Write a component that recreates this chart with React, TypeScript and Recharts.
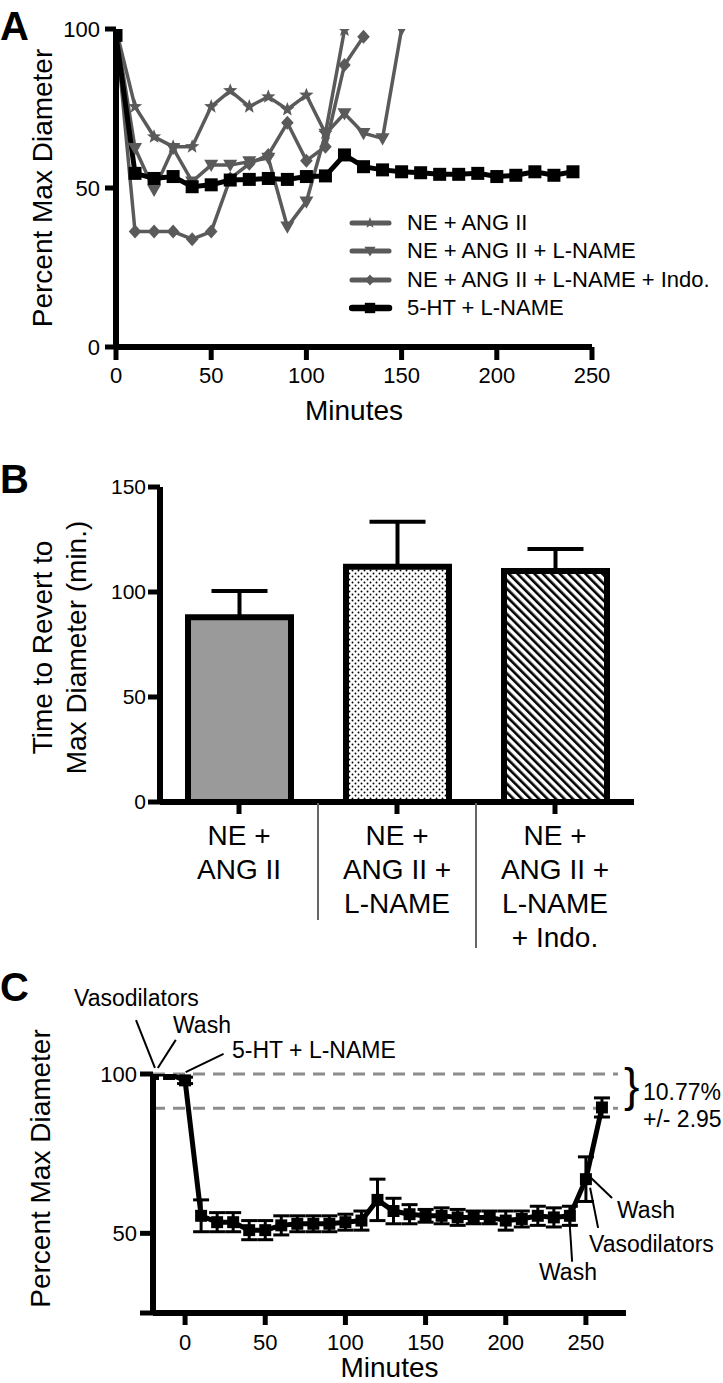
import React from "react";
import {
  LineChart,
  Line,
  XAxis,
  YAxis,
  BarChart,
  Bar,
  Cell,
  ErrorBar,
  Legend,
  ReferenceLine,
} from "recharts";

const FONT = '"Liberation Sans", Arial, Helvetica, sans-serif';
const GRAY = "#5a5a5a";

// ---------- Panel A ----------
const minutesA = [0, 10, 20, 30, 40, 50, 60, 70, 80, 90, 100, 110, 120, 130, 140, 150, 160, 170, 180, 190, 200, 210, 220, 230, 240];
const neAng = [100, 75.6, 66.1, 63, 63, 75.6, 80.6, 75.6, 78.7, 74.7, 79.2, 67.2, 99.7];
const neAngLname = [100, 62.5, 49.4, 62.5, 52, 57.2, 57.2, 58.3, 59.4, 37.8, 45.7, 67, 73.4, 67.2, 65.6, 100];
const neAngLnameIndo = [100, 36.3, 36.3, 36.3, 33.9, 36.3, 53, 57.6, 60.4, 70.5, 58.6, 63, 88.7, 97.6];
const htLname = [98, 54.6, 53, 53.6, 50.4, 51, 52.5, 52.7, 53, 52.7, 53.6, 53.8, 60.4, 56.7, 55.7, 55.1, 54.8, 54.3, 54.3, 54.6, 53.6, 54, 55.1, 54, 55.1];
const xTicksA = [0, 50, 100, 150, 200, 250];
const yTicksA = [0, 50, 100];

const seriesA = [
  { key: "ne", name: "NE + ANG II", shape: "star", color: GRAY, width: 3.5 },
  { key: "nel", name: "NE + ANG II + L-NAME", shape: "tri", color: GRAY, width: 3.5 },
  { key: "neli", name: "NE + ANG II + L-NAME + Indo.", shape: "diamond", color: GRAY, width: 3.5 },
  { key: "ht", name: "5-HT + L-NAME", shape: "square", color: "#000", width: 5 },
];

const dataA = minutesA.map((t, i) => ({
  t,
  ne: neAng[i],
  nel: neAngLname[i],
  neli: neAngLnameIndo[i],
  ht: htLname[i],
}));

// ---------- Panel B ----------
const categoriesB = ["NE + ANG II", "NE + ANG II + L-NAME", "NE + ANG II + L-NAME + Indo."];
const categoryLinesB = [
  ["NE +", "ANG II"],
  ["NE +", "ANG II +", "L-NAME"],
  ["NE +", "ANG II +", "L-NAME", "+ Indo."],
];
const timeToRevert = [88, 112, 110];
const timeToRevertErr = [12.5, 21.5, 10.5];
const fillsB = ["#9a9a9a", "url(#dotsB)", "url(#hatchB)"];
const yTicksB = [0, 50, 100, 150];

const dataB = categoriesB.map((name, i) => ({
  name,
  value: timeToRevert[i],
  err: [0, timeToRevertErr[i]],
}));

// ---------- Panel C ----------
const minutesC = [-20, -10, 0, 10, 20, 30, 40, 50, 60, 70, 80, 90, 100, 110, 120, 130, 140, 150, 160, 170, 180, 190, 200, 210, 220, 230, 240, 250, 260];
const meanC = [100, 100, 98, 55.5, 53.5, 53.5, 51, 51, 52.5, 53, 53, 53, 53.5, 54, 60.5, 57, 56, 55.5, 55.5, 55, 55, 55, 54, 54.5, 55.5, 55, 55.5, 67, 89.5];
const semC = [0, 0, 1, 5, 3, 3, 3, 3, 3, 2.5, 2.5, 2.5, 2.5, 3, 6.5, 4, 3, 2, 2.5, 2.5, 2, 2, 3, 2.5, 3, 3, 3, 7, 3];
const xTicksC = [0, 50, 100, 150, 200, 250];
const yTicksC = [25, 50, 100];
const recoveredC = 100 - 10.77;

// annotation leaders, in data units: [fromX, fromY, toX, toY]
const leadersC = [
  [-30.6, 116.9, -18.8, 101.9],
  [-5.8, 110.7, -17, 101.9],
  [24, 106.3, 0.4, 100.6],
  [266.3, 61.1, 252.6, 67.7],
  [257.6, 51.7, 252.6, 64.3],
  [241.4, 41.1, 239.6, 55.2],
];

const dataC = minutesC.map((t, i) => ({ t, mean: meanC[i], err: semC[i] }));

function Marker({ cx, cy, shape, color, size = 1 }: any) {
  if (cx == null || cy == null || Number.isNaN(cx) || Number.isNaN(cy)) return <g />;
  if (shape === "star") {
    const pts: string[] = [];
    for (let k = 0; k < 10; k++) {
      const r = (k % 2 === 0 ? 7.5 : 3.2) * size;
      const a = -Math.PI / 2 + (k * Math.PI) / 5;
      pts.push(`${cx + r * Math.cos(a)},${cy + r * Math.sin(a)}`);
    }
    return <polygon points={pts.join(" ")} fill={color} />;
  }
  if (shape === "tri") {
    const s = 7 * size;
    return <polygon points={`${cx - s},${cy - s * 0.75} ${cx + s},${cy - s * 0.75} ${cx},${cy + s}`} fill={color} />;
  }
  if (shape === "diamond") {
    const s = 7 * size;
    return <polygon points={`${cx},${cy - s} ${cx + s * 0.9},${cy} ${cx},${cy + s} ${cx - s * 0.9},${cy}`} fill={color} />;
  }
  const h = 6.5 * size;
  return <rect x={cx - h} y={cy - h} width={h * 2} height={h * 2} fill={color} />;
}

function LegendA() {
  return (
    <div style={{ fontFamily: FONT, fontSize: 22, color: "#000" }}>
      {seriesA.map((s) => (
        <div key={s.key} style={{ display: "flex", alignItems: "center", height: 28.3, whiteSpace: "nowrap" }}>
          <svg width={58} height={28} style={{ flex: "none" }}>
            <line x1={3} x2={40} y1={14} y2={14} stroke={s.color} strokeWidth={s.width + 1.5} strokeLinecap="round" />
            <Marker cx={21} cy={14} shape={s.shape} color={s.color} size={0.8} />
          </svg>
          <span>{s.name}</span>
        </div>
      ))}
    </div>
  );
}

function VTitle({ viewBox, lines, xs, dy = 0, fontSize = 28 }: any) {
  const cy = viewBox.y + viewBox.height / 2 + dy;
  return (
    <g>
      {lines.map((l: string, i: number) => {
        const x = viewBox.x + xs[i];
        return (
          <text
            key={i}
            x={x}
            y={cy}
            transform={`rotate(-90 ${x} ${cy})`}
            textAnchor="middle"
            fontSize={fontSize}
            fontFamily={FONT}
            fill="#000"
          >
            {l}
          </text>
        );
      })}
    </g>
  );
}

function CategoryTick(props: any) {
  const { x, y, index } = props;
  const lines = categoryLinesB[index] || [];
  const halfBand = (723 - 89 - 160) / categoriesB.length / 2;
  const sepEnd = [102, 130];
  return (
    <g>
      {lines.map((l, i) => (
        <text key={i} x={x} y={y + 27 + i * 34} textAnchor="middle" fontSize={28} fontFamily={FONT} fill="#000">
          {l}
        </text>
      ))}
      {index < categoriesB.length - 1 && (
        <line x1={x + halfBand} x2={x + halfBand} y1={y - 15} y2={y + sepEnd[index]} stroke="#666" strokeWidth={2} />
      )}
    </g>
  );
}

const axisLine = { stroke: "#000", strokeWidth: 6 };
const tickLine = { stroke: "#000", strokeWidth: 5 };

export default function App() {
  const tickStyle = { fill: "#000", fontSize: 22, fontFamily: FONT };
  return (
    <div style={{ position: "absolute", left: 0, top: 0, width: 723, height: 1383, background: "#fff", overflow: "hidden" }}>
      {/* Panel A */}
      <div style={{ position: "absolute", left: 0, top: 0 }}>
        <LineChart width={723} height={430} data={dataA} margin={{ top: 29, right: 131, bottom: 0, left: 0 }}>
          <XAxis
            type="number"
            dataKey="t"
            domain={[0, 250]}
            allowDataOverflow
            ticks={xTicksA}
            height={83}
            tickSize={13}
            tickMargin={7}
            axisLine={axisLine}
            tickLine={tickLine}
            tick={tickStyle}
            label={{ value: "Minutes", position: "insideBottom", offset: 10, fill: "#000", fontSize: 28, fontFamily: FONT }}
          />
          <YAxis
            domain={[0, 100]}
            allowDataOverflow
            ticks={yTicksA}
            width={116}
            tickSize={11}
            tickMargin={5}
            axisLine={axisLine}
            tickLine={tickLine}
            tick={tickStyle}
            label={<VTitle lines={["Percent Max Diameter"]} xs={[52]} />}
          />
          {seriesA.map((s) => (
            <Line
              key={s.key}
              dataKey={s.key}
              name={s.name}
              stroke={s.color}
              strokeWidth={s.width}
              isAnimationActive={false}
              activeDot={false}
              dot={(p: any) => <Marker key={`${s.key}-${p.index}`} cx={p.cx} cy={p.cy} shape={s.shape} color={s.color} />}
            />
          ))}
          <Legend
            layout="vertical"
            align="center"
            verticalAlign="middle"
            content={() => <LegendA />}
            wrapperStyle={{ left: 349, top: 209, width: 374 }}
          />
        </LineChart>
      </div>

      {/* Panel B */}
      <div style={{ position: "absolute", left: 0, top: 440 }}>
        <BarChart width={723} height={520} data={dataB} margin={{ top: 47, right: 89, bottom: 0, left: 0 }}>
          <defs>
            <pattern id="dotsB" patternUnits="userSpaceOnUse" width={6} height={6}>
              <rect width={6} height={6} fill="#fff" />
              <circle cx={1.5} cy={1.5} r={0.95} fill="#000" />
              <circle cx={4.5} cy={4.5} r={0.95} fill="#000" />
            </pattern>
            <pattern id="hatchB" patternUnits="userSpaceOnUse" width={6} height={6} patternTransform="rotate(-45)">
              <rect width={6} height={6} fill="#fff" />
              <rect x={0} y={0} width={2.6} height={6} fill="#000" />
            </pattern>
          </defs>
          <XAxis
            dataKey="name"
            interval={0}
            height={158}
            tickSize={12}
            tickMargin={4}
            axisLine={axisLine}
            tickLine={tickLine}
            tick={<CategoryTick />}
          />
          <YAxis
            domain={[0, 150]}
            allowDataOverflow
            ticks={yTicksB}
            width={160}
            tickSize={12}
            tickMargin={2}
            axisLine={axisLine}
            tickLine={tickLine}
            tick={{ fill: "#000", fontSize: 21, fontFamily: FONT }}
            label={<VTitle lines={["Time to Revert to", "Max Diameter (min.)"]} xs={[52, 86]} dy={3} />}
          />
          <Bar dataKey="value" barSize={103} stroke="#000" strokeWidth={6} isAnimationActive={false}>
            {dataB.map((d, i) => (
              <Cell key={d.name} fill={fillsB[i]} stroke="#000" strokeWidth={6} />
            ))}
            <ErrorBar dataKey="err" width={28} stroke="#000" strokeWidth={4} direction="y" isAnimationActive={false} />
          </Bar>
        </BarChart>
      </div>

      {/* Panel C */}
      <div style={{ position: "absolute", left: 0, top: 960 }}>
        <LineChart width={723} height={423} data={dataC} margin={{ top: 114, right: 97, bottom: 0, left: 0 }}>
          <XAxis
            type="number"
            dataKey="t"
            domain={[-20, 275]}
            allowDataOverflow
            ticks={xTicksC}
            height={70}
            tickSize={12}
            tickMargin={9}
            axisLine={axisLine}
            tickLine={tickLine}
            tick={tickStyle}
            label={{ value: "Minutes", position: "insideBottom", offset: 6, fill: "#000", fontSize: 28, fontFamily: FONT }}
          />
          <YAxis
            domain={[25, 100]}
            allowDataOverflow
            ticks={yTicksC}
            tickFormatter={(v: number) => (v === 25 ? "" : String(v))}
            width={153}
            tickSize={13}
            tickMargin={3}
            axisLine={axisLine}
            tickLine={tickLine}
            tick={tickStyle}
            label={<VTitle lines={["Percent Max Diameter"]} xs={[50]} dy={-25} />}
          />
          <ReferenceLine
            segment={[{ x: -20, y: 100 }, { x: 270, y: 100 }]}
            stroke="#8c8c8c"
            strokeWidth={3}
            strokeDasharray="12 8"
            ifOverflow="visible"
          />
          <ReferenceLine
            segment={[{ x: -20, y: recoveredC }, { x: 270, y: recoveredC }]}
            stroke="#8c8c8c"
            strokeWidth={3}
            strokeDasharray="12 8"
            ifOverflow="visible"
          />
          <Line
            dataKey="mean"
            stroke="#000"
            strokeWidth={5}
            isAnimationActive={false}
            activeDot={false}
            dot={(p: any) => <Marker key={`c-${p.index}`} cx={p.cx} cy={p.cy} shape="square" color="#000" size={0.92} />}
          >
            <ErrorBar dataKey="err" width={8} stroke="#000" strokeWidth={3} direction="y" isAnimationActive={false} />
          </Line>
          {leadersC.map((l, i) => (
            <ReferenceLine
              key={i}
              segment={[{ x: l[0], y: l[1] }, { x: l[2], y: l[3] }]}
              stroke="#000"
              strokeWidth={2}
              ifOverflow="visible"
            />
          ))}
        </LineChart>
      </div>

      {/* panel letters and annotation texts */}
      <svg width={723} height={1383} style={{ position: "absolute", left: 0, top: 0, pointerEvents: "none" }}>
        <g fontFamily={FONT} fontWeight="bold" fontSize={40} fill="#000">
          <text x={0} y={40}>A</text>
          <text x={0} y={493}>B</text>
          <text x={0} y={1001}>C</text>
        </g>
        <g fontFamily={FONT} fontSize={23} fill="#000">
          <text x={74} y={1006}>Vasodilators</text>
          <text x={173} y={1033}>Wash</text>
          <text x={232} y={1058}>5-HT + L-NAME</text>
          <text x={617} y={1218}>Wash</text>
          <text x={589} y={1252}>Vasodilators</text>
          <text x={539} y={1280}>Wash</text>
          <text x={643} y={1100}>10.77%</text>
          <text x={643} y={1127}>+/- 2.95</text>
        </g>
        <text x={624} y={1101} fontFamily={FONT} fontSize={46} fill="#000">
          {"}"}
        </text>
      </svg>
    </div>
  );
}
